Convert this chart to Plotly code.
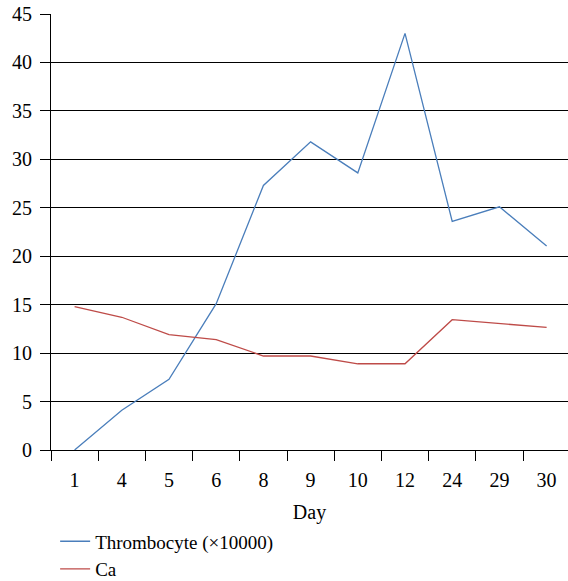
import plotly.graph_objects as go

days = ["1", "4", "5", "6", "8", "9", "10", "12", "24", "29", "30"]
thrombocyte = [0.0, 4.1, 7.3, 15.1, 27.3, 31.8, 28.6, 43.0, 23.6, 25.1, 21.05]
ca = [14.8, 13.7, 11.9, 11.4, 9.7, 9.7, 8.9, 8.9, 13.45, 13.05, 12.65]
y_ticks = [0, 5, 10, 15, 20, 25, 30, 35, 40, 45]

FONT = "Liberation Serif, Times New Roman, DejaVu Serif, serif"
FS = 20

fig = go.Figure()
fig.add_trace(go.Scatter(x=days, y=thrombocyte, mode="lines",
                         name="Thrombocyte (×10000)",
                         line=dict(color="#4a7ebb", width=1.3)))
fig.add_trace(go.Scatter(x=days, y=ca, mode="lines", name="Ca",
                         line=dict(color="#be4b48", width=1.3)))

fig.update_layout(
    width=568, height=581,
    margin=dict(l=51, r=0, t=14, b=131, autoexpand=False),
    paper_bgcolor="white", plot_bgcolor="white",
    font=dict(family=FONT, size=FS, color="black"),
    showlegend=True,
    legend=dict(x=0.008, xanchor="left", y=-0.166, yanchor="top",
                orientation="v", font=dict(family=FONT, size=19), tracegroupgap=0,
                bgcolor="rgba(0,0,0,0)"),
    xaxis=dict(type="category", categoryorder="array", categoryarray=days,
               range=[-0.5, 10.453], showline=True, linecolor="black", linewidth=1,
               ticks="outside", tickson="boundaries", ticklen=10, tickcolor="black",
               showgrid=False, tickfont=dict(family=FONT, size=FS),
               ticklabelstandoff=12, automargin=False,
               title=dict(text="Day", font=dict(family=FONT, size=FS), standoff=14)),
    yaxis=dict(range=[0, 45], tickvals=y_ticks, showline=True, linecolor="black",
               linewidth=1, ticks="outside", ticklen=10, tickcolor="black",
               showgrid=True, gridcolor="black", gridwidth=1, zeroline=False,
               ticklabelstandoff=4,
               tickfont=dict(family=FONT, size=FS), automargin=False),
)

fig.write_html("out.html", config={"displayModeBar": False},
               post_script="document.body.style.margin='0';document.body.style.padding='0';")
